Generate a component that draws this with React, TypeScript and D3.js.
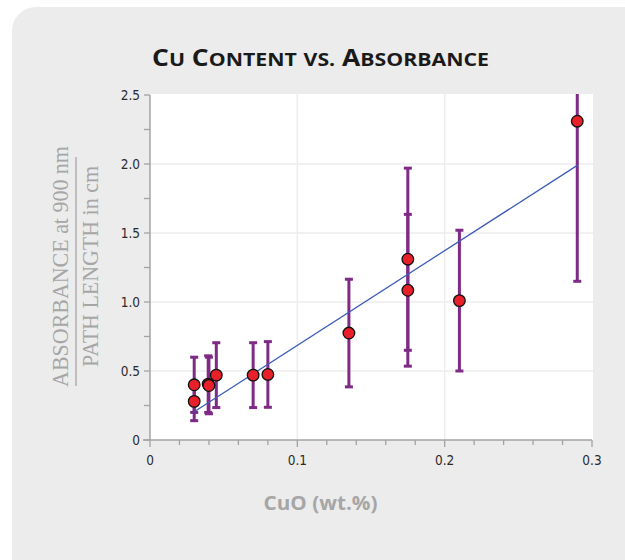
import React, { useLayoutEffect, useRef, useState } from "react";
import * as d3 from "d3";

// ---- data ----
const cuoWt = [0.03, 0.03, 0.0395, 0.04, 0.045, 0.07, 0.08, 0.135, 0.175, 0.175, 0.21, 0.29];
const absorbance = [0.40, 0.28, 0.405, 0.395, 0.47, 0.47, 0.475, 0.775, 1.31, 1.085, 1.01, 2.31];
const errorBar = [0.20, 0.14, 0.205, 0.205, 0.235, 0.235, 0.238, 0.39, 0.66, 0.55, 0.51, 1.16];
const fitX = [0.03, 0.29];
const fitY = [0.205, 1.99];
const xTickValues = [0, 0.1, 0.2, 0.3];
const xTickLabels = ["0", "0.1", "0.2", "0.3"];
const yTickValues = [0, 0.5, 1.0, 1.5, 2.0, 2.5];
const yTickLabels = ["0", "0.5", "1.0", "1.5", "2.0", "2.5"];

const W = 625;
const H = 560;
const X0 = 150, X1 = 592, Y0 = 440, Y1 = 95;

function FitText(props: any) {
  const { x, y, rotate = 0, width, children, ...rest } = props;
  const ref = useRef<SVGTextElement>(null);
  const [s, setS] = useState(1);
  useLayoutEffect(() => {
    if (ref.current) {
      const w = ref.current.getComputedTextLength();
      if (w > 0) setS(width / w);
    }
  }, [width]);
  return (
    <g transform={`translate(${x},${y}) rotate(${rotate}) scale(${s},1)`}>
      <text ref={ref} textAnchor="middle" {...rest}>
        {children}
      </text>
    </g>
  );
}

export default function App() {
  const x = d3.scaleLinear().domain([0, 0.3]).range([X0, X1]);
  const y = d3.scaleLinear().domain([0, 2.5]).range([Y0, Y1]);

  const xMinor = d3.range(0, 16).map((i) => i * 0.02);
  const yMinor = d3.range(0, 11).map((i) => i * 0.25);
  const gridX = [0.1, 0.2];
  const gridY = [0.5, 1.0, 1.5, 2.0];

  const line = d3
    .line<number>()
    .x((_, i) => x(fitX[i]))
    .y((d) => y(d));

  const purple = "#7e2a86";
  const tickFont = "'DejaVu Sans Condensed', 'DejaVu Sans', sans-serif";

  const big = 23;
  const small = 18.5;

  return (
    <svg
      width={W}
      height={H}
      style={{ position: "absolute", left: 0, top: 0 }}
    >
      <defs>
        <clipPath id="plotclip">
          <rect x={X0} y={Y1 - 1} width={X1 - X0 + 1} height={Y0 - Y1 + 1} />
        </clipPath>
      </defs>
      <rect x={0} y={0} width={W} height={H} fill="#ffffff" />
      <rect x={12} y={7} width={640} height={620} rx={24} fill="#ececec" />

      {/* title */}
      <FitText
        x={320.5}
        y={65.5}
        width={337}
        fontFamily="'Open Sans', Lato, sans-serif"
        fontWeight={700}
        fill="#1a1a1a"
      >
        <tspan fontSize={big}>C</tspan>
        <tspan fontSize={small}>U</tspan>
        <tspan fontSize={big}> C</tspan>
        <tspan fontSize={small}>ONTENT</tspan>
        <tspan fontSize={big}> </tspan>
        <tspan fontSize={small}>VS.</tspan>
        <tspan fontSize={big}> A</tspan>
        <tspan fontSize={small}>BSORBANCE</tspan>
      </FitText>

      {/* plot background */}
      <rect x={X0} y={Y1 - 1} width={X1 - X0 + 1} height={Y0 - Y1 + 1} fill="#ffffff" />

      {/* grid */}
      {gridX.map((v) => (
        <line key={"gx" + v} x1={x(v)} x2={x(v)} y1={Y1 - 1} y2={Y0} stroke="#ececec" strokeWidth={1.5} />
      ))}
      {gridY.map((v) => (
        <line key={"gy" + v} x1={X0} x2={X1 + 1} y1={y(v)} y2={y(v)} stroke="#ececec" strokeWidth={1.5} />
      ))}

      {/* axes */}
      <line x1={X0} x2={X0} y1={Y1} y2={Y0} stroke="#a3a3a3" strokeWidth={1.5} />
      <line x1={X0 - 7} x2={X1} y1={Y0} y2={Y0} stroke="#a3a3a3" strokeWidth={1.5} />
      {xMinor.map((v, i) => (
        <line
          key={"xt" + i}
          x1={x(v)}
          x2={x(v)}
          y1={Y0}
          y2={Y0 + (i % 5 === 0 ? 7 : 5)}
          stroke="#a3a3a3"
          strokeWidth={1.3}
        />
      ))}
      {yMinor.map((v, i) => (
        <line
          key={"yt" + i}
          x1={X0 - 6}
          x2={X0}
          y1={y(v)}
          y2={y(v)}
          stroke="#a3a3a3"
          strokeWidth={1.3}
        />
      ))}
      {xTickValues.map((v, i) => (
        <text
          key={"xl" + i}
          x={x(v)}
          y={464.5}
          textAnchor="middle"
          fontFamily={tickFont}
          fontSize={13.5}
          fill="#2a2a2a"
        >
          {xTickLabels[i]}
        </text>
      ))}
      {yTickValues.map((v, i) => (
        <text
          key={"yl" + i}
          x={140}
          y={y(v) + 5}
          textAnchor="end"
          fontFamily={tickFont}
          fontSize={13.5}
          fill="#2a2a2a"
        >
          {yTickLabels[i]}
        </text>
      ))}

      {/* error bars */}
      <g clipPath="url(#plotclip)">
        {cuoWt.map((cx, i) => {
          const top = absorbance[i] + errorBar[i];
          const bot = absorbance[i] - errorBar[i];
          const px = x(cx);
          return (
            <g key={"eb" + i}>
              <line x1={px} x2={px} y1={y(top)} y2={y(bot)} stroke={purple} strokeWidth={3} />
              {top <= 2.5 && (
                <line x1={px - 4} x2={px + 4} y1={y(top)} y2={y(top)} stroke={purple} strokeWidth={3} />
              )}
              <line x1={px - 4} x2={px + 4} y1={y(bot)} y2={y(bot)} stroke={purple} strokeWidth={3} />
            </g>
          );
        })}
      </g>

      {/* fit line */}
      <path d={line(fitY) || ""} fill="none" stroke="#3d5cb8" strokeWidth={1.3} />

      {/* points */}
      {cuoWt.map((cx, i) => (
        <circle
          key={"pt" + i}
          cx={x(cx)}
          cy={y(absorbance[i])}
          r={5.8}
          fill="#e8202a"
          stroke="#111"
          strokeWidth={1.3}
        />
      ))}

      {/* y label */}
      <FitText
        x={68}
        y={266.5}
        rotate={-90}
        width={241}
        fontFamily="'Liberation Serif', 'DejaVu Serif', serif"
        fontSize={23}
        fill="#a6a6a6"
      >
        ABSORBANCE at 900 nm
      </FitText>
      <line x1={76} x2={76} y1={157} y2={386} stroke="#a6a6a6" strokeWidth={1.3} />
      <FitText
        x={98}
        y={266.5}
        rotate={-90}
        width={201}
        fontFamily="'Liberation Serif', 'DejaVu Serif', serif"
        fontSize={23}
        fill="#a6a6a6"
      >
        PATH LENGTH in cm
      </FitText>

      {/* x label */}
      <FitText
        x={320.5}
        y={509.5}
        width={114}
        fontFamily="'Open Sans', Lato, sans-serif"
        fontWeight={700}
        fontSize={19}
        fill="#a6a6a6"
      >
        CuO (wt.%)
      </FitText>
    </svg>
  );
}
